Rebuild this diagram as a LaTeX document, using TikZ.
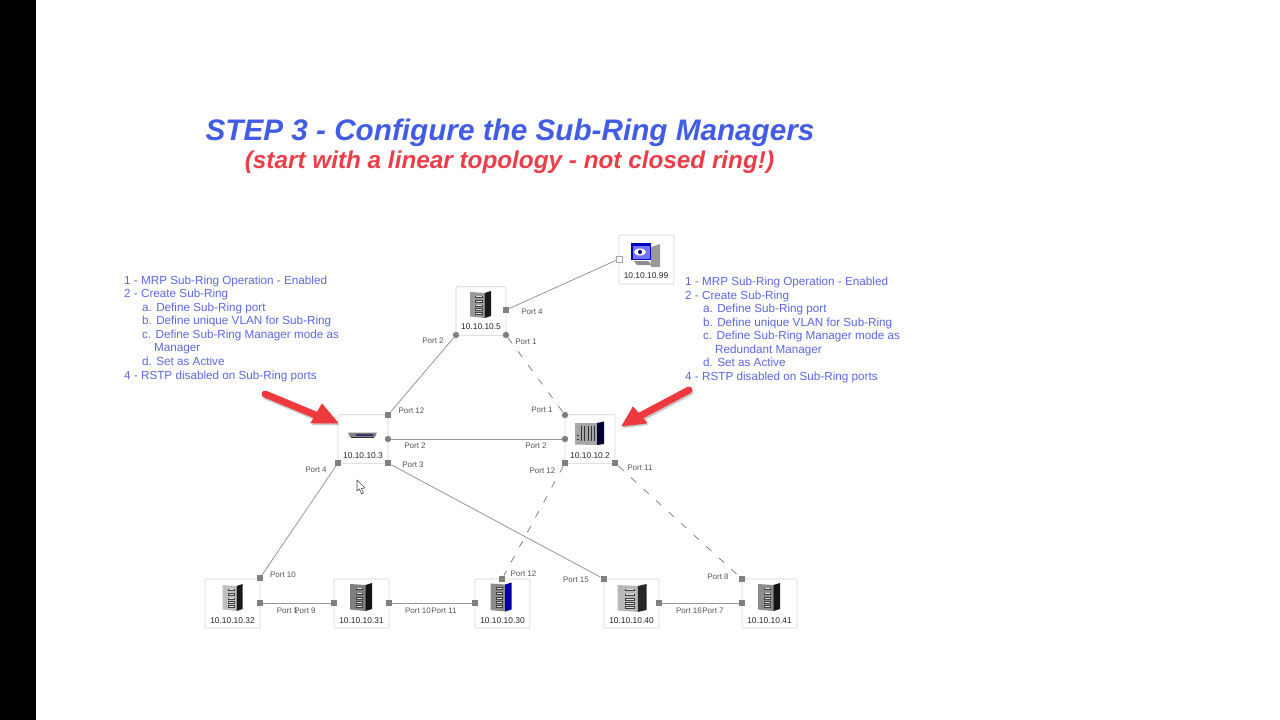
\documentclass[tikz,border=0pt]{standalone}
\usepackage{fontspec}
\setmainfont{Liberation Sans}
\definecolor{notec}{RGB}{92,104,222}
\definecolor{titlec}{RGB}{66,92,228}
\definecolor{subc}{RGB}{236,62,72}
\definecolor{portc}{RGB}{128,128,128}
\definecolor{linec}{RGB}{150,150,150}
\definecolor{boxc}{RGB}{210,210,210}
\definecolor{arrowc}{RGB}{238,58,62}
\definecolor{txtc}{RGB}{85,85,85}
\tikzset{
 devbox/.style={draw=boxc,fill=white,line width=.7pt,rounded corners=1pt,inner sep=0pt},
 ip/.style={font=\fontsize{8.4}{10}\selectfont,text=black!85,inner sep=0pt},
 plabel/.style={font=\fontsize{8}{10}\selectfont,text=txtc,inner sep=0pt},
 sq/.style={rectangle,fill=portc,minimum size=6.4pt,inner sep=0pt},
 ci/.style={circle,fill=portc,minimum size=6.4pt,inner sep=0pt},
 hollow/.style={rectangle,draw=portc!70,fill=white,line width=.5pt,minimum size=6pt,inner sep=0pt},
 lnk/.style={draw=linec,line width=.8pt},
 dlnk/.style={draw=linec!80!black,line width=.7pt,dash pattern=on 7pt off 10pt},
 note/.style={font=\fontsize{11.7}{13.55}\selectfont,text=notec,align=left,anchor=north west,inner sep=0pt},
 redarrow/.style={fill=arrowc,draw=arrowc,line join=round,line width=.8pt},
 redshaft/.style={draw=arrowc,line width=7pt,line cap=round}
}
% tall switch icon: centre x, centre y, width, height, front colour, side colour
\newcommand{\tallicon}[6]{%
 \begin{scope}[shift={(#1,#2)}]
  \fill[#5] ({-#3/2},{-#4/2+1}) -- ({#3/5},{-#4/2+2}) -- ({#3/5},{#4/2}) -- ({-#3/2},{#4/2-1.5}) -- cycle;
  \fill[#6] ({#3/5},{-#4/2+2}) -- ({#3/2},{-#4/2}) -- ({#3/2},{#4/2-2}) -- ({#3/5},{#4/2}) -- cycle;
  \foreach \yy in {-.33,-.16,0,.14,.29}{
   \fill[black!75] ({-#3/4},{\yy*#4}) rectangle ({#3/10},{\yy*#4+2.6});
   \fill[white!75!gray] ({-#3/4+1},{\yy*#4+.7}) rectangle ({#3/10-1},{\yy*#4+1.3});
  }
 \end{scope}}
\begin{document}
\begin{tikzpicture}[x=1pt,y=-1pt]
\useasboundingbox (0,0) rectangle (1280,720);
\fill[white] (0,0) rectangle (1280,720);
\fill[black] (0,0) rectangle (36,720);

% titles
\node[inner sep=0pt,text=titlec,font=\fontsize{29.7}{32}\selectfont\bfseries\itshape] (title) at (510,133) {STEP 3 - Configure the Sub-Ring Managers};
\node[inner sep=0pt,text=subc,font=\fontsize{24.3}{26}\selectfont\bfseries\itshape] (sub) at (509.5,162) {(start with a linear topology - not closed ring!)};

% notes
\node[note] (noteL) at (124,275.5) {1 - MRP Sub-Ring Operation - Enabled\\2 - Create Sub-Ring\\
\hspace{18pt}a. Define Sub-Ring port\\\hspace{18pt}b. Define unique VLAN for Sub-Ring\\\hspace{18pt}c. Define Sub-Ring Manager mode as\\\hspace{30pt}Manager\\\hspace{18pt}d. Set as Active\\4 - RSTP disabled on Sub-Ring ports};
\node[note] (noteR) at (685,277) {1 - MRP Sub-Ring Operation - Enabled\\2 - Create Sub-Ring\\
\hspace{18pt}a. Define Sub-Ring port\\\hspace{18pt}b. Define unique VLAN for Sub-Ring\\\hspace{18pt}c. Define Sub-Ring Manager mode as\\\hspace{30pt}Redundant Manager\\\hspace{18pt}d. Set as Active\\4 - RSTP disabled on Sub-Ring ports};

% device boxes
\node[devbox,minimum width=50pt,minimum height=48.5pt] (d5) at (481,311) {};
\node[devbox,minimum width=55pt,minimum height=49pt] (d99) at (646.5,259.5) {};
\node[devbox,minimum width=50pt,minimum height=48.5pt] (d3) at (363,439) {};
\node[devbox,minimum width=50pt,minimum height=48.5pt] (d2) at (590,439) {};
\node[devbox,minimum width=55pt,minimum height=49pt] (d32) at (232.5,603.5) {};
\node[devbox,minimum width=55pt,minimum height=49pt] (d31) at (361.5,603.5) {};
\node[devbox,minimum width=55pt,minimum height=49pt] (d30) at (502.5,603.5) {};
\node[devbox,minimum width=55pt,minimum height=49pt] (d40) at (631.5,603.5) {};
\node[devbox,minimum width=55pt,minimum height=49pt] (d41) at (769.5,603.5) {};

% device icons
\tallicon{480.5}{304.5}{21}{27}{black!40}{black!90}
\tallicon{232.5}{597.5}{20}{27}{black!25}{black!90}
\tallicon{361}{597}{22}{28}{black!50}{black!92}
\tallicon{632}{598}{29}{28}{black!28}{black!85}
\tallicon{769}{597}{22}{28}{black!45}{black!92}
% 10.10.10.30
\tallicon{501}{597}{21}{29}{black!45}{blue!65!black}
% 10.10.10.3
\fill[black!50] (348,432.5) -- (377,432.5) -- (375,437) -- (350,437) -- cycle;
\fill[blue!30!black!80] (356,433.5) rectangle (373,435.5);
\fill[black!80] (351,436.5) rectangle (374,438);
% 10.10.10.2
\fill[black!35] (575,423) -- (597,423) -- (597,445) -- (575,444.5) -- cycle;
\fill[blue!20!black] (597,423) -- (604,421.5) -- (604,444) -- (597,445) -- cycle;
\foreach \xx in {581,584.5,588,591.5,594.5}{\draw[black!80,line width=1pt] (\xx,426) -- (\xx,441);}
\draw[black!80,line width=1pt] (576.5,435) -- (579,435) (576.5,439) -- (579,439);
% 10.10.10.99
\fill[blue!75!black] (631,243) rectangle (651,260);
\fill[blue!55!white] (632.5,246) rectangle (649.5,258.5);
\fill[white] (640,252) ellipse (6pt and 3.5pt);
\fill[blue!50!black] (640,252) circle (2pt);
\fill[black!45] (634,261) -- (648,261) -- (652,265) -- (637,265) -- cycle;
\fill[black!40] (651,247) -- (660,244) -- (660,267) -- (651,267) -- cycle;

% addresses
\node[ip] (ip5) at (481,327) {10.10.10.5};
\node[ip] (ip99) at (646,276) {10.10.10.99};
\node[ip] (ip3) at (363,456) {10.10.10.3};
\node[ip] (ip2) at (590,456) {10.10.10.2};
\node[ip] (ip32) at (232.5,620.5) {10.10.10.32};
\node[ip] (ip31) at (361.5,620.5) {10.10.10.31};
\node[ip] (ip30) at (502.5,620.5) {10.10.10.30};
\node[ip] (ip40) at (631.5,620.5) {10.10.10.40};
\node[ip] (ip41) at (769.5,620.5) {10.10.10.41};

% ports
\node[sq] (p5r) at (506,310) {};
\node[ci] (p5l) at (456,335) {};
\node[ci] (p5b) at (506,335) {};
\node[hollow] (p99) at (619,259) {};
\node[sq] (p3t) at (388,415) {};
\node[ci] (p3m) at (388,439) {};
\node[sq] (p3l) at (338,463) {};
\node[sq] (p3b) at (388,463) {};
\node[ci] (p2t) at (565,415) {};
\node[ci] (p2m) at (565,439) {};
\node[sq] (p2l) at (565,463) {};
\node[sq] (p2b) at (615,463) {};
\node[sq] (p32t) at (260,578) {};
\node[sq] (p32r) at (260,603) {};
\node[sq] (p31l) at (334,603) {};
\node[sq] (p31r) at (389,603) {};
\node[sq] (p30l) at (475,603) {};
\node[sq] (p30t) at (502,579) {};
\node[sq] (p40t) at (604,579) {};
\node[sq] (p40r) at (659,603) {};
\node[sq] (p41t) at (742,579) {};
\node[sq] (p41l) at (742,603) {};

% connectors
\draw[lnk] (p5r) -- (p99);
\draw[lnk] (p5l) -- (p3t);
\draw[dlnk] (p5b) -- (p2t);
\draw[lnk] (p3m) -- (p2m);
\draw[lnk] (p3l) -- (p32t);
\draw[lnk] (p3b) -- (p40t);
\draw[dlnk] (p2l) -- (p30t);
\draw[dlnk] (p2b) -- (p41t);
\draw[lnk] (p32r) -- (p31l);
\draw[lnk] (p31r) -- (p30l);
\draw[lnk] (p40r) -- (p41l);

% port labels
\node[plabel] (l1) at (532,312) {Port 4};
\node[plabel] (l2) at (526,342) {Port 1};
\node[plabel] (l3) at (433,341) {Port 2};
\node[plabel] (l4) at (411.5,411) {Port 12};
\node[plabel] (l5) at (415,446) {Port 2};
\node[plabel] (l6) at (413,465) {Port 3};
\node[plabel] (l7) at (316,470) {Port 4};
\node[plabel] (l8) at (542,410) {Port 1};
\node[plabel] (l9) at (536,446) {Port 2};
\node[plabel] (l10) at (542.5,471) {Port 12};
\node[plabel] (l11) at (640,468) {Port 11};
\node[plabel] (l12) at (283,575) {Port 10};
\node[plabel] (l13) at (287.5,611) {Port 1};
\node[plabel] (l14) at (305,611) {Port 9};
\node[plabel] (l15) at (418,611) {Port 10};
\node[plabel] (l16) at (444,611) {Port 11};
\node[plabel] (l17) at (523.5,574) {Port 12};
\node[plabel] (l18) at (576,580) {Port 15};
\node[plabel] (l19) at (718,577) {Port 8};
\node[plabel] (l20) at (689,610.5) {Port 16};
\node[plabel] (l21) at (713,610.5) {Port 7};

% red arrows
\begin{scope}[shift={(1,2)},opacity=.22]
 \draw[draw=black,line width=7pt,line cap=round] (265,394) -- (318,416);
 \fill[black] (322,404) -- (338,423) -- (311,423) -- cycle;
 \draw[draw=black,line width=7pt,line cap=round] (689,390) -- (640,416);
 \fill[black] (633,407) -- (622,426) -- (647,423) -- cycle;
\end{scope}
\draw[redshaft] (265,394) -- (318,416);
\fill[redarrow] (322,404) -- (338,423) -- (311,423) -- cycle;
\draw[redshaft] (689,390) -- (640,416);
\fill[redarrow] (633,407) -- (622,426) -- (647,423) -- cycle;

% mouse cursor
\draw[black!70,fill=white,line width=.6pt,line join=round] (357,480) -- (357,491) -- (359.5,489) -- (361.5,494) -- (363.5,493) -- (361.5,488.5) -- (365,488) -- cycle;
\end{tikzpicture}
\end{document}
